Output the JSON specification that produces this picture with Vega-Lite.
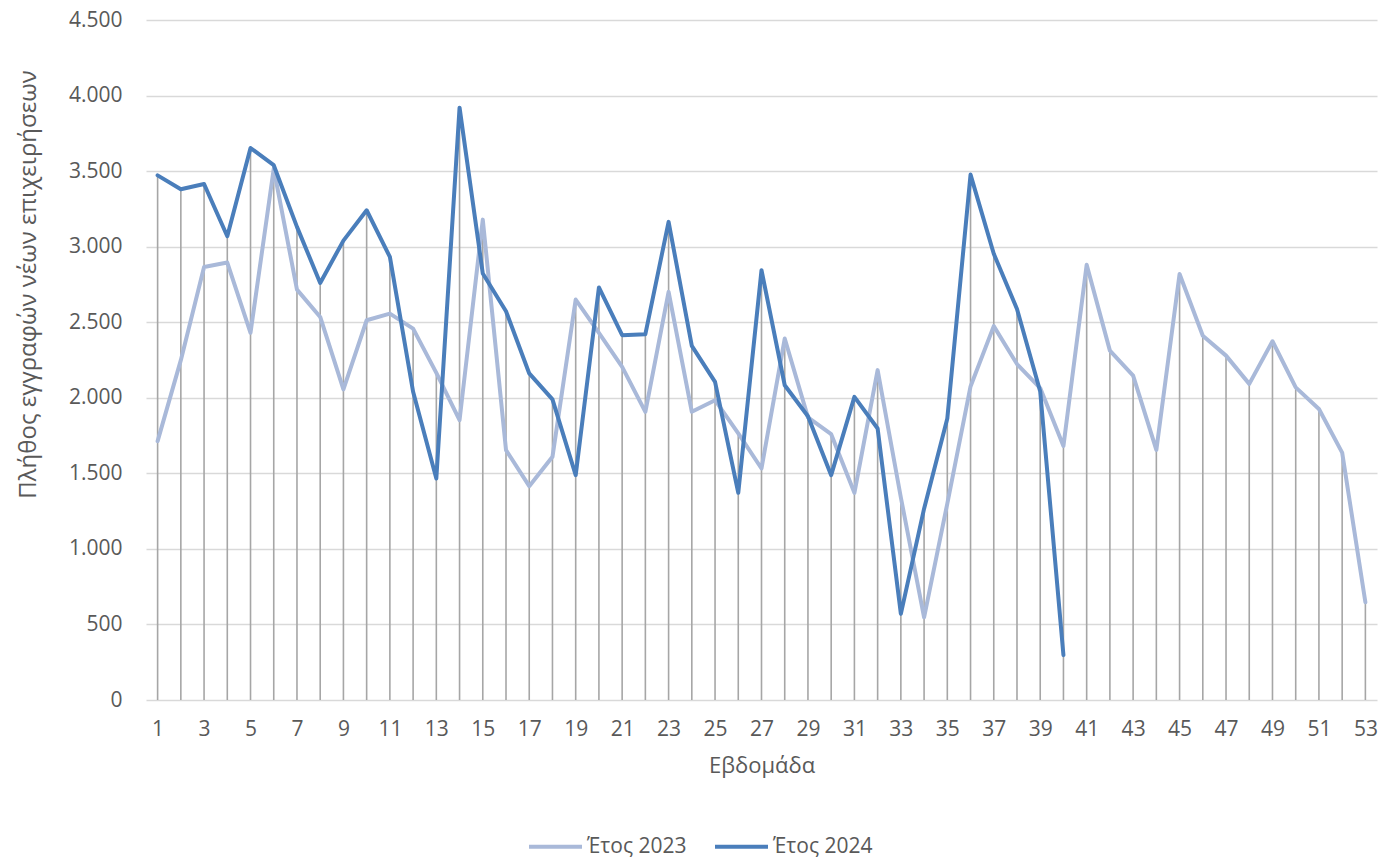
{
  "$schema": "https://vega.github.io/schema/vega-lite/v6.json",
  "autosize": "none",
  "width": 1231,
  "height": 680,
  "padding": {"left": 146, "top": 20, "right": 15, "bottom": 161},
  "background": "white",
  "config": {
    "view": {"stroke": null},
    "font": "Open Sans",
    "axis": {"labelFont": "Open Sans", "titleFont": "Open Sans", "labelColor": "#595959", "titleColor": "#595959", "titleFontWeight": "normal"},
    "legend": {"labelFont": "Open Sans", "labelColor": "#595959"}
  },
  "data": {
    "values": [
      {"week": 1, "series": "Έτος 2023", "value": 1713},
      {"week": 2, "series": "Έτος 2023", "value": 2249},
      {"week": 3, "series": "Έτος 2023", "value": 2866},
      {"week": 4, "series": "Έτος 2023", "value": 2895},
      {"week": 5, "series": "Έτος 2023", "value": 2430},
      {"week": 6, "series": "Έτος 2023", "value": 3515},
      {"week": 7, "series": "Έτος 2023", "value": 2716},
      {"week": 8, "series": "Έτος 2023", "value": 2535},
      {"week": 9, "series": "Έτος 2023", "value": 2055},
      {"week": 10, "series": "Έτος 2023", "value": 2513},
      {"week": 11, "series": "Έτος 2023", "value": 2557},
      {"week": 12, "series": "Έτος 2023", "value": 2458},
      {"week": 13, "series": "Έτος 2023", "value": 2165},
      {"week": 14, "series": "Έτος 2023", "value": 1852},
      {"week": 15, "series": "Έτος 2023", "value": 3179},
      {"week": 16, "series": "Έτος 2023", "value": 1654},
      {"week": 17, "series": "Έτος 2023", "value": 1415},
      {"week": 18, "series": "Έτος 2023", "value": 1609},
      {"week": 19, "series": "Έτος 2023", "value": 2650},
      {"week": 20, "series": "Έτος 2023", "value": 2430},
      {"week": 21, "series": "Έτος 2023", "value": 2205},
      {"week": 22, "series": "Έτος 2023", "value": 1907},
      {"week": 23, "series": "Έτος 2023", "value": 2701},
      {"week": 24, "series": "Έτος 2023", "value": 1907},
      {"week": 25, "series": "Έτος 2023", "value": 1984},
      {"week": 26, "series": "Έτος 2023", "value": 1764},
      {"week": 27, "series": "Έτος 2023", "value": 1532},
      {"week": 28, "series": "Έτος 2023", "value": 2392},
      {"week": 29, "series": "Έτος 2023", "value": 1870},
      {"week": 30, "series": "Έτος 2023", "value": 1759},
      {"week": 31, "series": "Έτος 2023", "value": 1371},
      {"week": 32, "series": "Έτος 2023", "value": 2183},
      {"week": 33, "series": "Έτος 2023", "value": 1340},
      {"week": 34, "series": "Έτος 2023", "value": 547},
      {"week": 35, "series": "Έτος 2023", "value": 1300},
      {"week": 36, "series": "Έτος 2023", "value": 2075},
      {"week": 37, "series": "Έτος 2023", "value": 2474},
      {"week": 38, "series": "Έτος 2023", "value": 2223},
      {"week": 39, "series": "Έτος 2023", "value": 2064},
      {"week": 40, "series": "Έτος 2023", "value": 1681},
      {"week": 41, "series": "Έτος 2023", "value": 2880},
      {"week": 42, "series": "Έτος 2023", "value": 2312},
      {"week": 43, "series": "Έτος 2023", "value": 2147},
      {"week": 44, "series": "Έτος 2023", "value": 1655},
      {"week": 45, "series": "Έτος 2023", "value": 2819},
      {"week": 46, "series": "Έτος 2023", "value": 2411},
      {"week": 47, "series": "Έτος 2023", "value": 2279},
      {"week": 48, "series": "Έτος 2023", "value": 2092},
      {"week": 49, "series": "Έτος 2023", "value": 2374},
      {"week": 50, "series": "Έτος 2023", "value": 2069},
      {"week": 51, "series": "Έτος 2023", "value": 1926},
      {"week": 52, "series": "Έτος 2023", "value": 1637},
      {"week": 53, "series": "Έτος 2023", "value": 647},
      {"week": 1, "series": "Έτος 2024", "value": 3472},
      {"week": 2, "series": "Έτος 2024", "value": 3380},
      {"week": 3, "series": "Έτος 2024", "value": 3415},
      {"week": 4, "series": "Έτος 2024", "value": 3069},
      {"week": 5, "series": "Έτος 2024", "value": 3653},
      {"week": 6, "series": "Έτος 2024", "value": 3539},
      {"week": 7, "series": "Έτος 2024", "value": 3131},
      {"week": 8, "series": "Έτος 2024", "value": 2760},
      {"week": 9, "series": "Έτος 2024", "value": 3040},
      {"week": 10, "series": "Έτος 2024", "value": 3241},
      {"week": 11, "series": "Έτος 2024", "value": 2932},
      {"week": 12, "series": "Έτος 2024", "value": 2040},
      {"week": 13, "series": "Έτος 2024", "value": 1466},
      {"week": 14, "series": "Έτος 2024", "value": 3920},
      {"week": 15, "series": "Έτος 2024", "value": 2822},
      {"week": 16, "series": "Έτος 2024", "value": 2573},
      {"week": 17, "series": "Έτος 2024", "value": 2161},
      {"week": 18, "series": "Έτος 2024", "value": 1989},
      {"week": 19, "series": "Έτος 2024", "value": 1488},
      {"week": 20, "series": "Έτος 2024", "value": 2730},
      {"week": 21, "series": "Έτος 2024", "value": 2414},
      {"week": 22, "series": "Έτος 2024", "value": 2421},
      {"week": 23, "series": "Έτος 2024", "value": 3164},
      {"week": 24, "series": "Έτος 2024", "value": 2344},
      {"week": 25, "series": "Έτος 2024", "value": 2105},
      {"week": 26, "series": "Έτος 2024", "value": 1371},
      {"week": 27, "series": "Έτος 2024", "value": 2844},
      {"week": 28, "series": "Έτος 2024", "value": 2083},
      {"week": 29, "series": "Έτος 2024", "value": 1878},
      {"week": 30, "series": "Έτος 2024", "value": 1488},
      {"week": 31, "series": "Έτος 2024", "value": 2006},
      {"week": 32, "series": "Έτος 2024", "value": 1797},
      {"week": 33, "series": "Έτος 2024", "value": 570},
      {"week": 34, "series": "Έτος 2024", "value": 1266},
      {"week": 35, "series": "Έτος 2024", "value": 1863},
      {"week": 36, "series": "Έτος 2024", "value": 3477},
      {"week": 37, "series": "Έτος 2024", "value": 2953},
      {"week": 38, "series": "Έτος 2024", "value": 2588},
      {"week": 39, "series": "Έτος 2024", "value": 2041},
      {"week": 40, "series": "Έτος 2024", "value": 297}
    ]
  },
  "encoding": {
    "x": {
      "field": "week", "type": "quantitative",
      "scale": {"domain": [0.5, 53.5], "nice": false, "zero": false},
      "axis": {
        "title": "Εβδομάδα", "titleFontSize": 22, "titlePadding": 16,
        "values": [1,3,5,7,9,11,13,15,17,19,21,23,25,27,29,31,33,35,37,39,41,43,45,47,49,51,53],
        "labelFontSize": 21, "labelPadding": 18, "domain": false, "ticks": false, "grid": false
      }
    }
  },
  "layer": [
    {
      "transform": [{"aggregate": [{"op": "max", "field": "value", "as": "maxv"}], "groupby": ["week"]}],
      "mark": {"type": "rule", "color": "#a6a6a6", "strokeWidth": 1.6},
      "encoding": {
        "y": {"field": "maxv", "type": "quantitative"},
        "y2": {"datum": 0}
      }
    },
    {
      "mark": {"type": "line", "strokeWidth": 4, "strokeJoin": "round", "strokeCap": "round"},
      "encoding": {
        "y": {
          "field": "value", "type": "quantitative",
          "scale": {"domain": [0, 4500], "nice": false},
          "axis": {
            "title": "Πλήθος εγγραφών νέων επιχειρήσεων", "titleFontSize": 24,
            "titleX": -111, "titleY": 264, "titleBaseline": "alphabetic", "titleAngle": 270, "titleAlign": "center",
            "values": [0,500,1000,1500,2000,2500,3000,3500,4000,4500],
            "labelExpr": "replace(format(datum.value, ','), ',', '.')",
            "labelFontSize": 21, "labelPadding": 24,
            "domain": false, "ticks": false,
            "grid": true, "gridColor": "#d9d9d9", "gridWidth": 1.5
          }
        },
        "color": {
          "field": "series", "type": "nominal",
          "scale": {"domain": ["Έτος 2023", "Έτος 2024"], "range": ["#a9b9d9", "#4a7ebb"]},
          "legend": {
            "title": null, "orient": "none", "direction": "horizontal",
            "legendX": 381, "legendY": 798,
            "symbolType": "stroke", "symbolSize": 2809, "symbolStrokeWidth": 4,
            "labelFontSize": 21, "labelOffset": 3, "columnPadding": 20
          }
        }
      }
    }
  ]
}
